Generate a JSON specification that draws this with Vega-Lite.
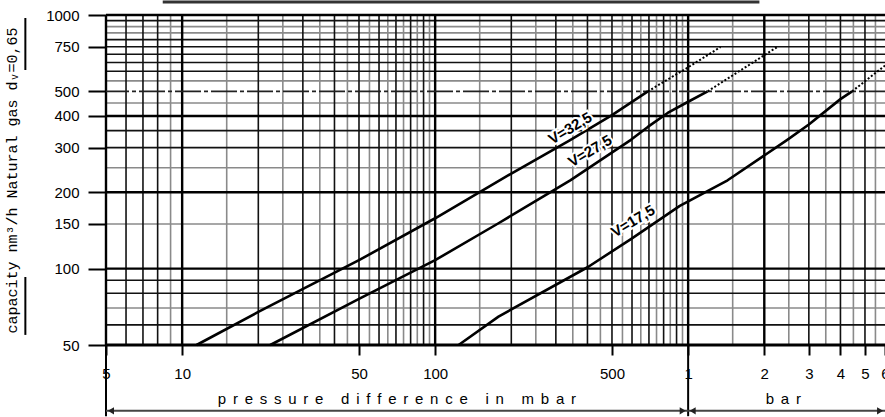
{
  "$schema": "https://vega.github.io/schema/vega-lite/v6.json",
  "width": 779,
  "height": 330,
  "autosize": {"type": "none"},
  "padding": {"left": 106, "top": 15, "right": 0, "bottom": 72},
  "background": "white",
  "config": {"view": {"stroke": null}, "font": "Liberation Sans"},
  "datasets": {
    "curves": [
      {"series": "V=32,5", "range": "rated", "p": 11.4, "q": 50},
      {"series": "V=32,5", "range": "rated", "p": 20, "q": 67.5},
      {"series": "V=32,5", "range": "rated", "p": 50, "q": 108},
      {"series": "V=32,5", "range": "rated", "p": 100, "q": 158},
      {"series": "V=32,5", "range": "rated", "p": 200, "q": 237},
      {"series": "V=32,5", "range": "rated", "p": 339, "q": 320},
      {"series": "V=32,5", "range": "rated", "p": 500, "q": 403},
      {"series": "V=32,5", "range": "rated", "p": 693, "q": 500},
      {"series": "V=32,5", "range": "extrapolated", "p": 693, "q": 500},
      {"series": "V=32,5", "range": "extrapolated", "p": 1000, "q": 622},
      {"series": "V=32,5", "range": "extrapolated", "p": 1343, "q": 748},
      {"series": "V=27,5", "range": "rated", "p": 22.3, "q": 50},
      {"series": "V=27,5", "range": "rated", "p": 50, "q": 76},
      {"series": "V=27,5", "range": "rated", "p": 100, "q": 108},
      {"series": "V=27,5", "range": "rated", "p": 178, "q": 151},
      {"series": "V=27,5", "range": "rated", "p": 342, "q": 223},
      {"series": "V=27,5", "range": "rated", "p": 594, "q": 322},
      {"series": "V=27,5", "range": "rated", "p": 693, "q": 362},
      {"series": "V=27,5", "range": "rated", "p": 830, "q": 411},
      {"series": "V=27,5", "range": "rated", "p": 996, "q": 454},
      {"series": "V=27,5", "range": "rated", "p": 1194, "q": 500},
      {"series": "V=27,5", "range": "extrapolated", "p": 1194, "q": 500},
      {"series": "V=27,5", "range": "extrapolated", "p": 2250, "q": 748},
      {"series": "V=17,5", "range": "rated", "p": 123.8, "q": 50},
      {"series": "V=17,5", "range": "rated", "p": 178, "q": 64.7},
      {"series": "V=17,5", "range": "rated", "p": 402, "q": 101.5},
      {"series": "V=17,5", "range": "rated", "p": 594, "q": 130.8},
      {"series": "V=17,5", "range": "rated", "p": 927, "q": 176.7},
      {"series": "V=17,5", "range": "rated", "p": 1432, "q": 223},
      {"series": "V=17,5", "range": "rated", "p": 2465, "q": 322},
      {"series": "V=17,5", "range": "rated", "p": 3000, "q": 370},
      {"series": "V=17,5", "range": "rated", "p": 4000, "q": 466},
      {"series": "V=17,5", "range": "rated", "p": 4446, "q": 500},
      {"series": "V=17,5", "range": "extrapolated", "p": 4446, "q": 500},
      {"series": "V=17,5", "range": "extrapolated", "p": 6000, "q": 632}
    ],
    "vgrid": [
      {"p": 6, "rank": "major"}, {"p": 7, "rank": "major"}, {"p": 8, "rank": "major"}, {"p": 9, "rank": "minor"},
      {"p": 10, "rank": "decade"},
      {"p": 15, "rank": "minor"}, {"p": 20, "rank": "major"}, {"p": 25, "rank": "minor"}, {"p": 30, "rank": "major"},
      {"p": 35, "rank": "minor"}, {"p": 40, "rank": "major"}, {"p": 45, "rank": "minor"}, {"p": 50, "rank": "major"},
      {"p": 55, "rank": "minor"}, {"p": 60, "rank": "major"}, {"p": 65, "rank": "minor"}, {"p": 70, "rank": "major"},
      {"p": 75, "rank": "minor"}, {"p": 80, "rank": "major"}, {"p": 85, "rank": "minor"}, {"p": 90, "rank": "major"},
      {"p": 95, "rank": "minor"}, {"p": 100, "rank": "decade"},
      {"p": 150, "rank": "minor"}, {"p": 200, "rank": "major"}, {"p": 250, "rank": "minor"}, {"p": 300, "rank": "major"},
      {"p": 350, "rank": "minor"}, {"p": 400, "rank": "major"}, {"p": 450, "rank": "minor"}, {"p": 500, "rank": "major"},
      {"p": 550, "rank": "minor"}, {"p": 600, "rank": "major"}, {"p": 650, "rank": "minor"}, {"p": 700, "rank": "major"},
      {"p": 750, "rank": "minor"}, {"p": 800, "rank": "major"}, {"p": 850, "rank": "minor"}, {"p": 900, "rank": "major"},
      {"p": 950, "rank": "minor"}, {"p": 1000, "rank": "decade"},
      {"p": 1500, "rank": "minor"}, {"p": 2000, "rank": "decade"}, {"p": 2500, "rank": "minor"}, {"p": 3000, "rank": "major"},
      {"p": 3500, "rank": "minor"}, {"p": 4000, "rank": "major"}, {"p": 4500, "rank": "minor"}, {"p": 5000, "rank": "major"},
      {"p": 5500, "rank": "minor"}, {"p": 5, "rank": "decade"}
    ],
    "hgrid": [
      {"q": 60, "rank": "major"}, {"q": 70, "rank": "minor"}, {"q": 80, "rank": "major"}, {"q": 90, "rank": "major"},
      {"q": 100, "rank": "decade"}, {"q": 150, "rank": "minor"}, {"q": 200, "rank": "decade"}, {"q": 250, "rank": "minor"},
      {"q": 300, "rank": "major"}, {"q": 350, "rank": "major"}, {"q": 400, "rank": "decade"}, {"q": 450, "rank": "minor"},
      {"q": 550, "rank": "minor"}, {"q": 600, "rank": "major"}, {"q": 650, "rank": "major"}, {"q": 700, "rank": "major"},
      {"q": 750, "rank": "major"}, {"q": 800, "rank": "major"}, {"q": 850, "rank": "minor"}, {"q": 900, "rank": "minor"},
      {"q": 950, "rank": "major"}, {"q": 1000, "rank": "decade"}, {"q": 50, "rank": "border"},
      {"q": 500, "rank": "reference"}
    ],
    "labels": [
      {"series": "V=32,5", "p": 341.6, "q": 358},
      {"series": "V=27,5", "p": 409, "q": 291},
      {"series": "V=17,5", "p": 605, "q": 154}
    ],
    "notes": [
      {"text": "p\u2005\u2009r\u2005\u2009e\u2005\u2009s\u2005\u2009s\u2005\u2009u\u2005\u2009r\u2005\u2009e\u2005\u2009 \u2005\u2009d\u2005\u2009i\u2005\u2009f\u2005\u2009f\u2005\u2009e\u2005\u2009r\u2005\u2009e\u2005\u2009n\u2005\u2009c\u2005\u2009e\u2005\u2009 \u2005\u2009i\u2005\u2009n\u2005\u2009 \u2005\u2009m\u2005\u2009b\u2005\u2009a\u2005\u2009r", "p": 70.6, "q": 30.6},
      {"text": "b\u2005\u2009a\u2005\u2009r", "p": 2378, "q": 30.6}
    ],
    "arrows": [
      {"p1": 5, "p2": 1000, "q": 27.5},
      {"p1": 1000, "p2": 6000, "q": 27.5}
    ],
    "heads": [
      {"p": 5.23, "q": 27.5, "dir": "left"},
      {"p": 952, "q": 27.5, "dir": "right"},
      {"p": 1042, "q": 27.5, "dir": "left"},
      {"p": 5740, "q": 27.5, "dir": "right"}
    ],
    "extenders": [
      {"p": 5, "q1": 50, "q2": 26.2},
      {"p": 1000, "q1": 50, "q2": 26.2}
    ],
    "underlines": [
      {"p": 2.4, "q1": 973, "q2": 607},
      {"p": 2.4, "q1": 92.7, "q2": 54.8}
    ],
    "topline": [
      {"p1": 8.38, "p2": 1913, "q": 1125}
    ]
  },
  "layer": [
    {
      "data": {"name": "vgrid"},
      "transform": [{"filter": "datum.rank === 'minor'"}],
      "mark": {"type": "rule", "color": "#8a8a8a", "strokeWidth": 1.6},
      "encoding": {
        "x": {
          "field": "p", "type": "quantitative",
          "scale": {"type": "log", "domain": [5, 6000]},
          "axis": {
            "values": [5, 10, 50, 100, 500, 1000, 2000, 3000, 4000, 5000, 6000],
            "labelExpr": "datum.value >= 1000 ? format(datum.value / 1000, 'd') : format(datum.value, 'd')",
            "domain": false, "grid": false,
            "ticks": true, "tickSize": 10, "tickWidth": 2, "tickColor": "#000",
            "labelFont": "Liberation Sans", "labelFontSize": 15, "labelColor": "#000",
            "labelPadding": 11, "labelFlush": false, "labelOverlap": false, "labelBound": false,
            "title": null
          }
        }
      }
    },
    {
      "data": {"name": "hgrid"},
      "transform": [{"filter": "datum.rank === 'minor'"}],
      "mark": {"type": "rule", "color": "#8a8a8a", "strokeWidth": 1.6},
      "encoding": {
        "y": {
          "field": "q", "type": "quantitative",
          "scale": {"type": "log", "domain": [50, 1000]},
          "axis": {
            "values": [50, 100, 150, 200, 300, 400, 500, 750, 1000],
            "labelExpr": "format(datum.value, 'd')",
            "domain": false, "grid": false,
            "ticks": true, "tickSize": 18, "tickWidth": 2, "tickColor": "#000",
            "labelFont": "Liberation Sans", "labelFontSize": 15, "labelColor": "#000",
            "labelPadding": 9, "labelOverlap": false, "labelBound": false, "labelFlush": false,
            "title": "capacity nm³/h Natural gas dᵥ=0,65",
            "titleFont": "Liberation Mono", "titleFontSize": 15, "titleFontWeight": "normal",
            "titleColor": "#000", "titlePadding": 26
          }
        }
      }
    },
    {
      "data": {"name": "vgrid"},
      "transform": [{"filter": "datum.rank === 'major'"}],
      "mark": {"type": "rule", "color": "#111", "strokeWidth": 1.6},
      "encoding": {"x": {"field": "p", "type": "quantitative", "scale": {"type": "log", "domain": [5, 6000]}}}
    },
    {
      "data": {"name": "hgrid"},
      "transform": [{"filter": "datum.rank === 'major'"}],
      "mark": {"type": "rule", "color": "#111", "strokeWidth": 1.6},
      "encoding": {"y": {"field": "q", "type": "quantitative", "scale": {"type": "log", "domain": [50, 1000]}}}
    },
    {
      "data": {"name": "vgrid"},
      "transform": [{"filter": "datum.rank === 'decade'"}],
      "mark": {"type": "rule", "color": "#000", "strokeWidth": 2.4},
      "encoding": {"x": {"field": "p", "type": "quantitative", "scale": {"type": "log", "domain": [5, 6000]}}}
    },
    {
      "data": {"name": "hgrid"},
      "transform": [{"filter": "datum.rank === 'decade'"}],
      "mark": {"type": "rule", "color": "#000", "strokeWidth": 2.4},
      "encoding": {"y": {"field": "q", "type": "quantitative", "scale": {"type": "log", "domain": [50, 1000]}}}
    },
    {
      "data": {"name": "hgrid"},
      "transform": [{"filter": "datum.rank === 'border'"}],
      "mark": {"type": "rule", "color": "#000", "strokeWidth": 3},
      "encoding": {"y": {"field": "q", "type": "quantitative", "scale": {"type": "log", "domain": [50, 1000]}}}
    },
    {
      "data": {"name": "hgrid"},
      "transform": [{"filter": "datum.rank === 'reference'"}],
      "mark": {"type": "rule", "color": "#222", "strokeWidth": 1.8, "strokeDash": [26, 3, 4, 3]},
      "encoding": {"y": {"field": "q", "type": "quantitative", "scale": {"type": "log", "domain": [50, 1000]}}}
    },
    {
      "data": {"name": "extenders"},
      "mark": {"type": "rule", "color": "#000", "strokeWidth": 2},
      "encoding": {
        "x": {"field": "p", "type": "quantitative", "scale": {"type": "log", "domain": [5, 6000]}},
        "y": {"field": "q1", "type": "quantitative", "scale": {"type": "log", "domain": [50, 1000]}},
        "y2": {"field": "q2"}
      }
    },
    {
      "data": {"name": "underlines"},
      "mark": {"type": "rule", "color": "#000", "strokeWidth": 2},
      "encoding": {
        "x": {"field": "p", "type": "quantitative", "scale": {"type": "log", "domain": [5, 6000]}},
        "y": {"field": "q1", "type": "quantitative", "scale": {"type": "log", "domain": [50, 1000]}},
        "y2": {"field": "q2"}
      }
    },
    {
      "data": {"name": "topline"},
      "mark": {"type": "rule", "color": "#333", "strokeWidth": 3},
      "encoding": {
        "x": {"field": "p1", "type": "quantitative", "scale": {"type": "log", "domain": [5, 6000]}},
        "x2": {"field": "p2"},
        "y": {"field": "q", "type": "quantitative", "scale": {"type": "log", "domain": [50, 1000]}}
      }
    },
    {
      "data": {"name": "arrows"},
      "mark": {"type": "rule", "color": "#444", "strokeWidth": 2},
      "encoding": {
        "x": {"field": "p1", "type": "quantitative", "scale": {"type": "log", "domain": [5, 6000]}},
        "x2": {"field": "p2"},
        "y": {"field": "q", "type": "quantitative", "scale": {"type": "log", "domain": [50, 1000]}}
      }
    },
    {
      "data": {"name": "heads"},
      "mark": {"type": "point", "filled": true, "color": "#222", "size": 50, "opacity": 1},
      "encoding": {
        "x": {"field": "p", "type": "quantitative", "scale": {"type": "log", "domain": [5, 6000]}},
        "y": {"field": "q", "type": "quantitative", "scale": {"type": "log", "domain": [50, 1000]}},
        "shape": {"field": "dir", "type": "nominal", "scale": {"domain": ["left", "right"], "range": ["triangle-left", "triangle-right"]}, "legend": null}
      }
    },
    {
      "data": {"name": "notes"},
      "mark": {"type": "text", "font": "Liberation Sans", "fontSize": 15, "color": "#000", "align": "center", "baseline": "middle"},
      "encoding": {
        "x": {"field": "p", "type": "quantitative", "scale": {"type": "log", "domain": [5, 6000]}},
        "y": {"field": "q", "type": "quantitative", "scale": {"type": "log", "domain": [50, 1000]}},
        "text": {"field": "text"}
      }
    },
    {
      "data": {"name": "curves"},
      "transform": [{"filter": "datum.range === 'rated'"}],
      "mark": {"type": "line", "color": "#000", "strokeWidth": 2.6, "strokeJoin": "round"},
      "encoding": {
        "x": {"field": "p", "type": "quantitative", "scale": {"type": "log", "domain": [5, 6000]}},
        "y": {"field": "q", "type": "quantitative", "scale": {"type": "log", "domain": [50, 1000]}},
        "detail": {"field": "series"}
      }
    },
    {
      "data": {"name": "curves"},
      "transform": [{"filter": "datum.range === 'extrapolated'"}],
      "mark": {"type": "line", "color": "#000", "strokeWidth": 2, "strokeDash": [2, 2]},
      "encoding": {
        "x": {"field": "p", "type": "quantitative", "scale": {"type": "log", "domain": [5, 6000]}},
        "y": {"field": "q", "type": "quantitative", "scale": {"type": "log", "domain": [50, 1000]}},
        "detail": {"field": "series"}
      }
    },
    {
      "data": {"name": "labels"},
      "mark": {"type": "text", "font": "Liberation Sans", "fontSize": 15, "fontWeight": "bold", "angle": -31, "align": "center", "baseline": "middle", "fill": "#fff", "stroke": "#fff", "strokeWidth": 4},
      "encoding": {
        "x": {"field": "p", "type": "quantitative", "scale": {"type": "log", "domain": [5, 6000]}},
        "y": {"field": "q", "type": "quantitative", "scale": {"type": "log", "domain": [50, 1000]}},
        "text": {"field": "series"}
      }
    },
    {
      "data": {"name": "labels"},
      "mark": {"type": "text", "font": "Liberation Sans", "fontSize": 15, "fontWeight": "bold", "angle": -31, "align": "center", "baseline": "middle", "fill": "#000"},
      "encoding": {
        "x": {"field": "p", "type": "quantitative", "scale": {"type": "log", "domain": [5, 6000]}},
        "y": {"field": "q", "type": "quantitative", "scale": {"type": "log", "domain": [50, 1000]}},
        "text": {"field": "series"}
      }
    }
  ]
}
